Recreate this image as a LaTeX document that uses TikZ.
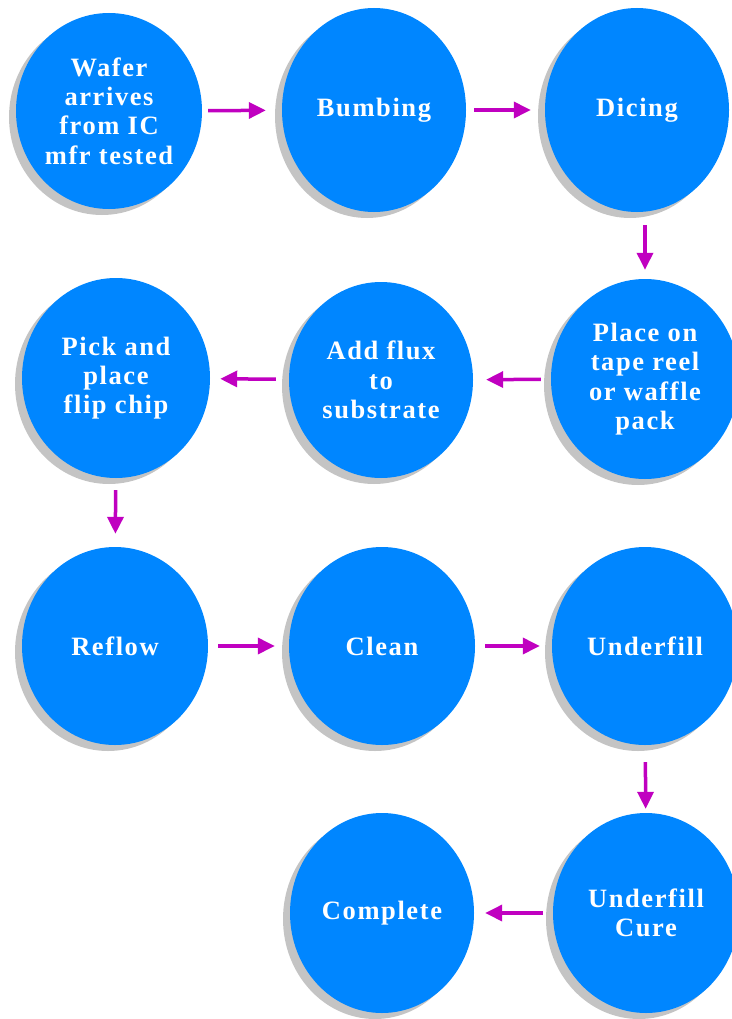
\documentclass[tikz,border=0pt]{standalone}
\usepackage{fontspec}
\setmainfont[LetterSpace=6]{Liberation Serif}
\usetikzlibrary{arrows.meta,shapes.geometric,shadows}
\definecolor{bub}{RGB}{0,134,255}
\definecolor{arrc}{RGB}{192,0,192}
\definecolor{shd}{RGB}{196,196,196}
\begin{document}
\begin{tikzpicture}[x=1pt,y=-1pt,
  stage/.style={ellipse, fill=bub, inner sep=0pt, text=white, align=center,
    minimum width=186pt, minimum height=198pt,
    font=\fontsize{26.5}{29.3}\selectfont\bfseries,
    drop shadow={shadow xshift=-7pt, shadow yshift=-6pt, fill=shd, opacity=1}},
  flow/.style={draw=arrc, line width=3.5pt, -{Triangle[length=17pt,width=16pt]}}]
\useasboundingbox (0,0) rectangle (731,1019);
% row 1
\node[stage, minimum height=196pt] (w) at (109,111) {Wafer\\arrives\\from IC\\mfr tested};
\node[stage, minimum width=184pt, minimum height=204pt] (b) at (374,110) {Bumbing};
\node[stage, minimum width=184pt, minimum height=204pt] (d) at (637,110) {Dicing};
% row 2
\node[stage, minimum width=188pt, minimum height=200pt] (p) at (645,379) {Place on\\tape reel\\or waffle\\pack};
\node[stage, minimum width=184pt, minimum height=196pt] (f) at (381,380) {Add flux\\to\\substrate};
\node[stage, minimum width=188pt, minimum height=200pt] (k) at (116,378) {Pick and\\place\\flip chip};
% row 3
\node[stage] (r) at (115,646) {Reflow};
\node[stage] (c) at (382,646) {Clean};
\node[stage] (u) at (645,646) {Underfill};
% row 4
\node[stage, minimum height=200pt] (uc) at (646,913) {Underfill\\Cure};
\node[stage, minimum width=184pt, minimum height=200pt] (co) at (382,913) {Complete};
% connectors
\draw[flow, shorten <=6pt, shorten >=16pt] (w) -- (b);
\draw[flow, shorten <=8pt, shorten >=14pt] (b) -- (d);
\draw[flow, shorten <=13pt, shorten >=9pt] (d.south -| p.north) -- (p.north);
\draw[flow, shorten <=10pt, shorten >=13pt] (p) -- (f);
\draw[flow, shorten <=13pt, shorten >=10pt] (f) -- (k);
\draw[flow, shorten <=12pt, shorten >=13pt] (k) -- (r);
\draw[flow, shorten <=10pt, shorten >=14pt] (r) -- (c);
\draw[flow, shorten <=10pt, shorten >=12pt] (c) -- (u);
\draw[flow, shorten <=17pt, shorten >=4pt] (u) -- (uc);
\draw[flow, shorten <=10pt, shorten >=11pt] (uc) -- (co);
\end{tikzpicture}
\end{document}
